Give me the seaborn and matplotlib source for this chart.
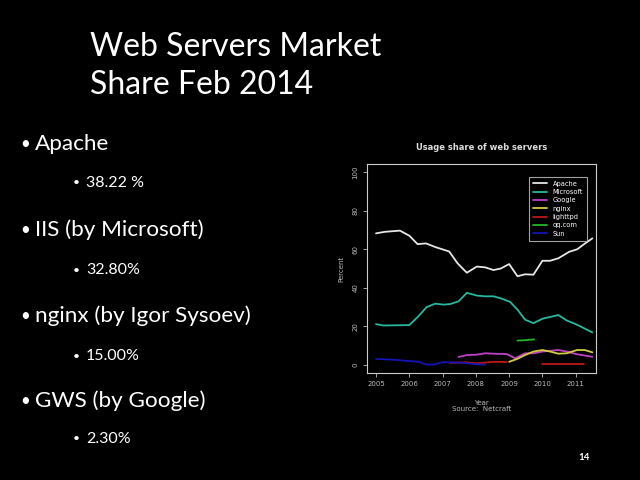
import matplotlib
matplotlib.use("Agg")
import matplotlib.pyplot as plt
import pandas as pd
import seaborn as sns

# slide text
title_lines = ["Web Servers Market", "Share Feb 2014"]
bullets = [("Apache", 0), ("38.22 %", 1),
           ("IIS (by Microsoft)", 0), ("32.80%", 1),
           ("nginx (by Igor Sysoev)", 0), ("15.00%", 1),
           ("GWS (by Google)", 0), ("2.30%", 1)]
page_no = "14"

# chart data, each series may have several segments
apache_year = [2005.0, 2005.27, 2005.72, 2006.0, 2006.25, 2006.5, 2006.8, 2007.2, 2007.45,
               2007.73, 2008.03, 2008.28, 2008.53, 2008.75, 2009.0, 2009.25, 2009.48,
               2009.73, 2010.0, 2010.23, 2010.48, 2010.8, 2011.05, 2011.25, 2011.5]
apache_pct = [68.2, 69.0, 69.6, 67.0, 62.6, 63.0, 61.0, 58.8, 52.7,
              47.8, 51.0, 50.6, 49.2, 50.0, 52.3, 46.0, 47.0,
              46.8, 54.0, 54.0, 55.3, 58.6, 60.0, 62.6, 65.6]

microsoft_year = [2005.0, 2005.22, 2006.0, 2006.27, 2006.52, 2006.78, 2007.03, 2007.23, 2007.48,
                  2007.73, 2008.03, 2008.28, 2008.53, 2008.78, 2009.03, 2009.25, 2009.48,
                  2009.73, 2010.0, 2010.23, 2010.48, 2010.73, 2011.04, 2011.5]
microsoft_pct = [21.2, 20.5, 20.7, 25.2, 30.0, 31.8, 31.3, 31.6, 33.0,
                 37.4, 36.0, 35.6, 35.6, 34.4, 32.7, 28.7, 23.5,
                 21.7, 24.0, 24.9, 25.9, 23.1, 20.9, 16.9]

google_year = [2007.48, 2007.73, 2008.03, 2008.28, 2008.53, 2008.93, 2009.18, 2009.48,
               2009.73, 2010.0, 2010.48, 2010.73, 2011.04, 2011.5]
google_pct = [4.2, 5.2, 5.4, 6.1, 5.9, 5.7, 3.5, 6.1,
              6.1, 7.0, 7.8, 7.0, 5.6, 4.3]

nginx_year = [2009.0, 2009.23, 2009.48, 2009.73, 2010.0, 2010.23, 2010.48, 2010.73,
              2011.04, 2011.27, 2011.5]
nginx_pct = [1.7, 3.1, 5.2, 7.0, 7.8, 7.0, 5.9, 6.1, 7.8, 7.8, 6.6]

lighttpd_year = [[2007.23, 2007.73, 2008.03, 2008.53, 2008.93], [2010.0, 2010.5, 2011.25]]
lighttpd_pct = [[1.2, 1.4, 0.9, 1.7, 1.6], [0.5, 0.5, 0.5]]

qq_year = [2009.25, 2009.5, 2009.75]
qq_pct = [12.7, 12.9, 13.3]

sun_year = [2005.0, 2005.5, 2006.0, 2006.3, 2006.5, 2006.75, 2007.0, 2007.5, 2007.75,
            2008.0, 2008.28]
sun_pct = [3.2, 2.8, 2.1, 1.7, 0.3, 0.3, 1.5, 1.3, 0.9, 0.5, 0.2]

server_names = ["Apache", "Microsoft", "Google", "nginx", "lighttpd", "qq.com", "Sun"]
server_colors = ["#e6e6e6", "#26b8a0", "#c040c8", "#d2cc3c", "#c01818", "#22b822", "#1414b4"]
series = {
    "Apache": [(apache_year, apache_pct)],
    "Microsoft": [(microsoft_year, microsoft_pct)],
    "Google": [(google_year, google_pct)],
    "nginx": [(nginx_year, nginx_pct)],
    "lighttpd": list(zip(lighttpd_year, lighttpd_pct)),
    "qq.com": [(qq_year, qq_pct)],
    "Sun": [(sun_year, sun_pct)],
}
year_ticks = [2005, 2006, 2007, 2008, 2009, 2010, 2011]
pct_ticks = [0, 20, 40, 60, 80, 100]

sns.set_style("dark")
plt.rcParams["font.family"] = ["Lato", "DejaVu Sans"]

fig = plt.figure(figsize=(6.4, 4.8), dpi=100, facecolor="black")

# slide title and bullets
fig.text(0.141, 1 - 47 / 480, title_lines[0], color="white", fontsize=23, va="center")
fig.text(0.141, 1 - 85 / 480, title_lines[1], color="white", fontsize=23, va="center")
bullet_y = [144, 183, 230, 270, 316, 356, 401, 439]
for (txt, lvl), py in zip(bullets, bullet_y):
    x_dot = 20 if lvl == 0 else 73
    size = 16.2 if lvl == 0 else 11.5
    fig.text(x_dot / 640, 1 - py / 480, "\u2022", color="white", fontsize=size * 0.75, va="center")
    fig.text((x_dot + (15 if lvl == 0 else 13)) / 640, 1 - py / 480, txt, color="white",
             fontsize=size, va="center")
fig.text(578 / 640, 1 - 458 / 480, page_no, color="white", fontsize=7, fontweight="bold", va="center")

# chart
ax = fig.add_axes([367 / 640, 1 - 373 / 480, 229 / 640, 209 / 480])
ax.set_facecolor("black")
for name, col in zip(server_names, server_colors):
    for i, (xs, ys) in enumerate(series[name]):
        sns.lineplot(x=xs, y=ys, ax=ax, color=col, linewidth=1.3,
                     label=name if i == 0 else None, legend=False)

ax.set_xlim(2004.73, 2011.61)
ax.set_ylim(-4.1, 104.1)
ax.set_xticks(year_ticks)
ax.set_yticks(pct_ticks)
ax.set_xticklabels([str(y) for y in year_ticks], fontsize=5, color="#bbbbbb", family="DejaVu Sans")
ax.set_yticklabels([str(p) for p in pct_ticks], fontsize=5, color="#bbbbbb", rotation=90,
                   va="center", family="DejaVu Sans")
ax.tick_params(axis="both", which="both", direction="out", length=3, width=0.6,
               color="#bbbbbb", bottom=True, left=True, pad=3)
ax.grid(False)
for sp in ax.spines.values():
    sp.set_color("#cccccc")
    sp.set_linewidth(0.8)
    sp.set_visible(True)

ax.set_title("Usage share of web servers", color="#dddddd", fontsize=6, fontweight="bold",
             family="DejaVu Sans", pad=10)
ax.set_ylabel("Percent", color="#bbbbbb", fontsize=5, family="DejaVu Sans", labelpad=6)
ax.set_xlabel("Year\nSource:  Netcraft", color="#bbbbbb", fontsize=5, family="DejaVu Sans",
              labelpad=9, linespacing=1.1)

leg = ax.legend(loc="upper right", frameon=True, facecolor="black",
                edgecolor="#cccccc", labelcolor="white", handlelength=2.2,
                borderpad=0.6, labelspacing=0.35, fancybox=False,
                prop={"family": "DejaVu Sans", "size": 4.8}, bbox_to_anchor=(0.975, 0.955))
leg.get_frame().set_linewidth(0.8)

fig.savefig("out.png", dpi=100, facecolor="black")
